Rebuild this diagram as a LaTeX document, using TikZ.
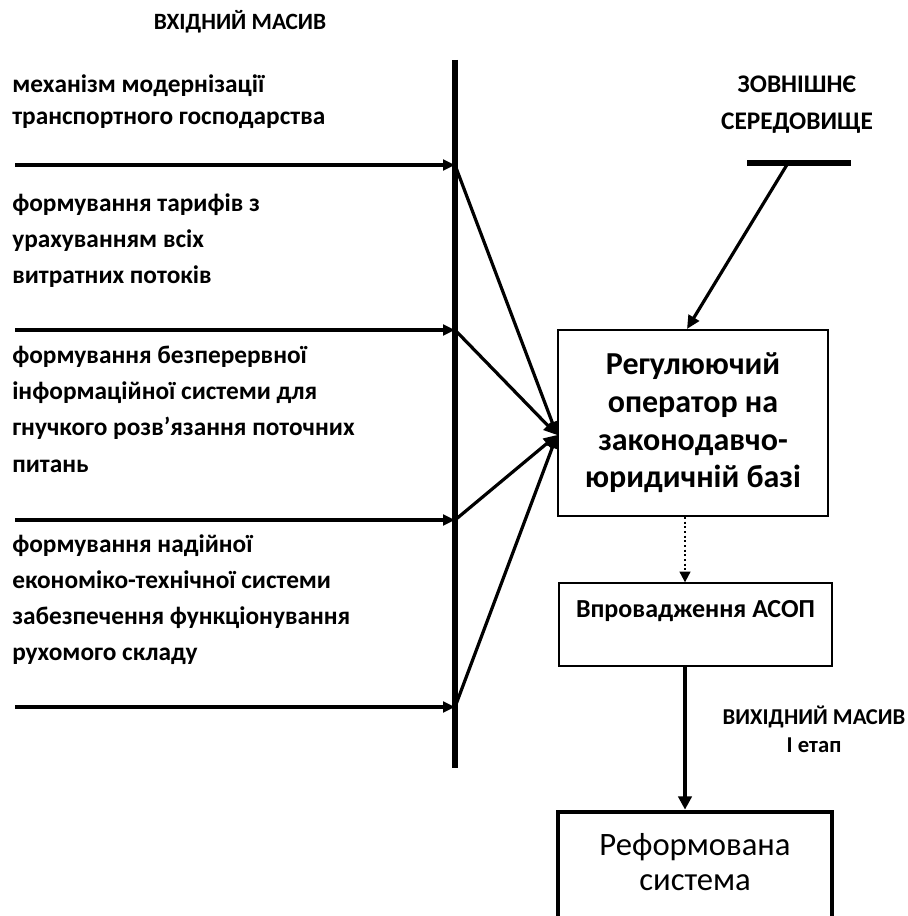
\documentclass[tikz,border=0pt]{standalone}
\usepackage{fontspec}
\setmainfont{Carlito}
\usetikzlibrary{arrows.meta}

\tikzset{
	schiene/.style={line width=4.5pt},
	zufluss/.style={line width=3pt, -{Triangle[length=9pt,width=8pt]}},
	sammel/.style={line width=2.4pt, -{Triangle[length=10pt,width=9pt]}},
	eintrag/.style={anchor=base west, align=left, inner sep=0pt, font=\fontsize{19}{26.8}\selectfont\bfseries},
	kopf/.style={align=center, inner sep=0pt, font=\fontsize{17}{21}\selectfont\bfseries},
	regbox/.style={draw, line width=1.5pt, minimum width=202.5pt, minimum height=139.5pt, align=center, inner sep=0pt, font=\fontsize{24}{28.3}\selectfont\bfseries},
	asopbox/.style={draw, line width=1pt, minimum width=204.75pt, minimum height=62.25pt, inner sep=0pt, text height=14pt, text depth=25pt, font=\fontsize{19.5}{22}\selectfont\bfseries},
	reformbox/.style={draw, line width=3.5pt, minimum width=205.5pt, minimum height=82.5pt},
	reformtext/.style={align=center, inner sep=0pt, font=\fontsize{24.5}{26}\selectfont}
}

\begin{document}
\begin{tikzpicture}[x=0.75pt, y=-0.75pt]
	\useasboundingbox (0,0) rectangle (907,916);
	
	% Überschrift links
	\node[kopf, font=\fontsize{17.5}{21}\selectfont\bfseries] (kopf-ein) at (240,22) {ВХІДНИЙ МАСИВ};
	
	% Sammelschiene
	\coordinate (bar-top) at (455,60);
	\coordinate (bar-bot) at (455,768);
	\draw[schiene] (bar-top) -- (bar-bot);
	
	% Kästen rechts
	\node[regbox] (reg) at (693,423) {Регулюючий\\оператор на\\законодавчо-\\юридичній базі};
	\node[asopbox] (asop) at (695.5,624.5) {Впровадження АСОП};
	\node[reformbox] (reform) at (695,867) {};
	\node[reformtext] (reform-txt) at (695,862) {Реформована\\система};
	\coordinate (hub) at (557,435);
	\coordinate (achse) at (685,0);
	
	% Eingänge mit Pfeilen zum Operator
	\foreach \y [count=\i] in {165,330,520,707} {
		\coordinate (in\i) at (15,\y);
		\coordinate (j\i) at (455,\y);
		\draw[zufluss] (in\i) -- (j\i);
		\draw[sammel] (j\i) -- (hub);
	}
	
	% Texte der Eingänge (Anker = Grundlinie der letzten Zeile)
	\node[eintrag, font=\fontsize{19}{24}\selectfont\bfseries] (e1) at (12,125) {механізм модернізації\\транспортного господарства};
	\node[eintrag] (e2) at (12,283) {формування тарифів з\\урахуванням всіх\\витратних потоків};
	\node[eintrag, font=\fontsize{19}{27.2}\selectfont\bfseries] (e3) at (12,472) {формування безперервної\\інформаційної системи для\\гнучкого розв’язання поточних\\питань};
	\node[eintrag, font=\fontsize{19}{27}\selectfont\bfseries] (e4) at (12,660) {формування надійної\\економіко-технічної системи\\забезпечення функціонування\\рухомого складу};
	
	% Зовнішнє середовище
	\node[kopf, font=\fontsize{19}{27.7}\selectfont\bfseries] (kopf-ext) at (797,105) {ЗОВНІШНЄ\\СЕРЕДОВИЩЕ};
	\coordinate (ext-l) at (747,163);
	\coordinate (ext-r) at (851,163);
	\coordinate (ext-m) at (788,163);
	\draw[schiene] (ext-l) -- (ext-r);
	\draw[sammel] (ext-m) -- ([xshift=-4.5pt]reg.north);
	
	% Ausgang
	\draw[line width=1.5pt, dotted, -{Triangle[length=8pt,width=8pt]}] (reg.south -| achse) -- (asop.north -| achse);
	\draw[zufluss, -{Triangle[length=10pt,width=10pt]}] (asop.south -| achse) -- (reform.north -| achse);
	\node[kopf] (kopf-aus) at (814,729) {ВИХІДНИЙ МАСИВ\\І етап};
	
\end{tikzpicture}
\end{document}
